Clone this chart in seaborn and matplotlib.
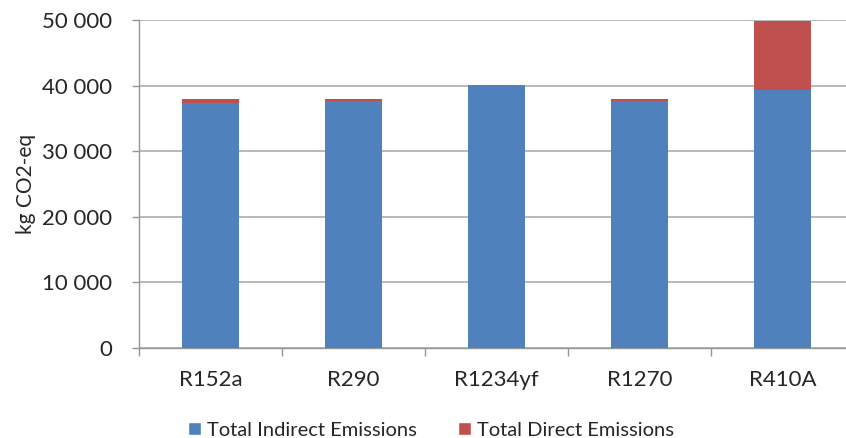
import matplotlib
matplotlib.use("Agg")
import matplotlib.pyplot as plt
from matplotlib.patches import Patch
from matplotlib.ticker import FuncFormatter, FixedLocator
import seaborn as sns
import pandas as pd

refrigerants = ["R152a", "R290", "R1234yf", "R1270", "R410A"]
indirect = [37300, 37700, 40050, 37700, 39300]
direct = [600, 200, 50, 200, 10500]

blue = "#4F81BD"
red = "#C0504D"
grid_gray = "#ADADAD"
text_col = "#262626"

sns.set_theme(style="white")
plt.rcParams["font.family"] = ["Lato", "DejaVu Sans"]

df = pd.DataFrame({
    "refrigerant": refrigerants,
    "indirect": indirect,
    "total": [i + d for i, d in zip(indirect, direct)],
})

fig = plt.figure(figsize=(8.46, 4.38), dpi=100)
ax = fig.add_axes([139 / 846, 1 - 348 / 438, 715 / 846, 328 / 438])

# stacked look: total (direct on top) drawn first, indirect part over it
sns.barplot(data=df, x="refrigerant", y="total", color=red, width=0.4,
            saturation=1, ax=ax, zorder=2, linewidth=0)
sns.barplot(data=df, x="refrigerant", y="indirect", color=blue, width=0.4,
            saturation=1, ax=ax, zorder=3, linewidth=0)

ax.set_ylim(0, 50000)
ax.set_xlim(-0.5, len(refrigerants) - 0.5)
ax.set_yticks(range(0, 50001, 10000))
ax.yaxis.set_major_formatter(FuncFormatter(lambda v, p: f"{int(v):,}".replace(",", " ")))
ax.grid(axis="y", color=grid_gray, linewidth=1.2, zorder=0)
ax.set_axisbelow(True)

for s in ["top", "right"]:
    ax.spines[s].set_visible(False)
for s in ["left", "bottom"]:
    ax.spines[s].set_color("#969696")
    ax.spines[s].set_linewidth(1.0)

ax.xaxis.set_minor_locator(FixedLocator([i - 0.5 for i in range(len(refrigerants) + 1)]))
ax.tick_params(axis="x", which="major", length=0, pad=16, labelsize=16, labelcolor=text_col)
ax.tick_params(axis="x", which="minor", length=6, color="#969696", width=1, bottom=True)
ax.tick_params(axis="y", which="major", length=5, color="#969696", width=1, left=True,
               pad=14, labelsize=16, labelcolor=text_col)

ax.set_xlabel("")
ax.set_ylabel("kg CO2-eq", fontsize=15, color=text_col, labelpad=5)

handles = [Patch(facecolor=blue, label="Total Indirect Emissions"),
           Patch(facecolor=red, label="Total Direct Emissions")]
fig.legend(handles=handles, loc="center", bbox_to_anchor=(431 / 846, 1 - 430 / 438),
           ncol=2, frameon=False, fontsize=14.5, handlelength=0.65, handleheight=0.65,
           handletextpad=0.3, columnspacing=2.0, labelcolor=text_col)

fig.savefig("out.png", dpi=100)
